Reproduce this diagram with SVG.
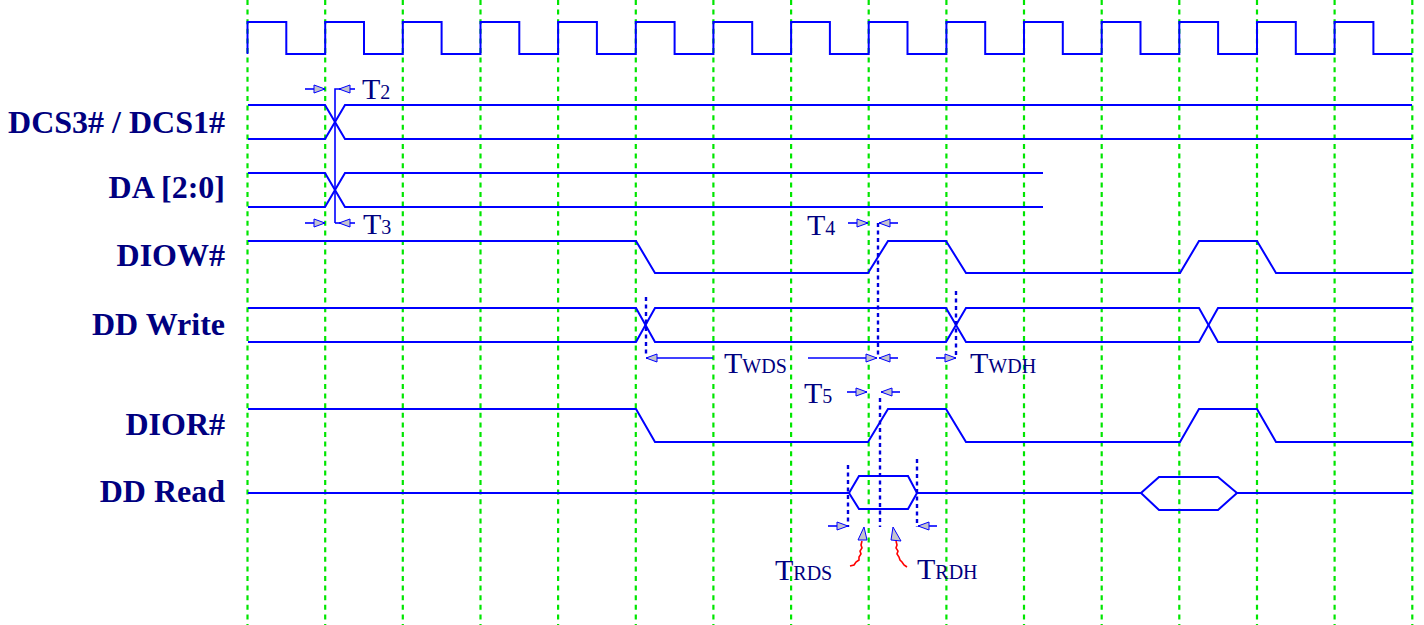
<svg xmlns="http://www.w3.org/2000/svg" width="1424" height="625" viewBox="0 0 1424 625">
<style>
.grid{stroke:#00e600;stroke-width:2.2;stroke-dasharray:5 4.6;fill:none}
.sig{stroke:#0000ff;stroke-width:2;fill:none}
.thin{stroke:#0000ff;stroke-width:1.6;fill:none}
.dot{stroke:#0000dd;stroke-width:2.4;stroke-dasharray:4 3.5;fill:none}
.lbl{font-family:"Liberation Serif","Times New Roman",serif;font-weight:bold;font-size:32px;fill:#000080;text-anchor:end}
.tl{font-family:"Liberation Serif","Times New Roman",serif;fill:#000080}
.big{font-size:30px}
.sub{font-size:20px}
.ar{stroke:#0000ff;stroke-width:1.6;fill:none;marker-end:url(#ah)}
.head{fill:#c4c4cc;stroke:#0000ff;stroke-width:1}
.red{stroke:#ff0000;stroke-width:1.6;fill:none}
</style>
<defs>
<marker id="ah" viewBox="0 0 11 8" refX="11" refY="4" markerWidth="11" markerHeight="8" markerUnits="userSpaceOnUse" orient="auto" overflow="visible">
<path d="M0,0 L11,4 L0,8 Z" fill="#c4c4cc" stroke="#0000ff" stroke-width="1"/>
</marker>
</defs>
<rect width="1424" height="625" fill="#ffffff"/>
<g id="grid">
<line class="grid" x1="247.5" y1="0" x2="247.5" y2="625"/>
<line class="grid" x1="325.2" y1="0" x2="325.2" y2="625"/>
<line class="grid" x1="402.8" y1="0" x2="402.8" y2="625"/>
<line class="grid" x1="480.5" y1="0" x2="480.5" y2="625"/>
<line class="grid" x1="558.1" y1="0" x2="558.1" y2="625"/>
<line class="grid" x1="635.8" y1="0" x2="635.8" y2="625"/>
<line class="grid" x1="713.4" y1="0" x2="713.4" y2="625"/>
<line class="grid" x1="791.1" y1="0" x2="791.1" y2="625"/>
<line class="grid" x1="868.7" y1="0" x2="868.7" y2="625"/>
<line class="grid" x1="946.4" y1="0" x2="946.4" y2="625"/>
<line class="grid" x1="1024" y1="0" x2="1024" y2="625"/>
<line class="grid" x1="1101.7" y1="0" x2="1101.7" y2="625"/>
<line class="grid" x1="1179.3" y1="0" x2="1179.3" y2="625"/>
<line class="grid" x1="1257" y1="0" x2="1257" y2="625"/>
<line class="grid" x1="1334.6" y1="0" x2="1334.6" y2="625"/>
<line class="grid" x1="1412.3" y1="0" x2="1412.3" y2="625"/>
</g>
<g id="clock">
<path class="sig" d="M247.5,54 V22 H286.3 V54 H325.2 V22 H364 V54 H402.8 V22 H441.6 V54 H480.5 V22 H519.3 V54 H558.1 V22 H596.9 V54 H635.8 V22 H674.6 V54 H713.4 V22 H752.2 V54 H791.1 V22 H829.9 V54 H868.7 V22 H907.5 V54 H946.4 V22 H985.2 V54 H1024 V22 H1062.8 V54 H1101.7 V22 H1140.5 V54 H1179.3 V22 H1218.1 V54 H1257 V22 H1295.8 V54 H1334.6 V22 H1373.4 V54 H1412.3"/>
</g>
<g id="dcs">
<text class="lbl" x="225" y="133">DCS3# / DCS1#</text>
<path class="sig" d="M248,105 H325 L345,139 H1412"/>
<path class="sig" d="M248,139 H325 L345,105 H1412"/>
</g>
<g id="da">
<text class="lbl" x="225" y="198">DA [2:0]</text>
<path class="sig" d="M248,173 H325 L345,207 H1043"/>
<path class="sig" d="M248,207 H325 L345,173 H1043"/>
</g>
<g id="diow">
<text class="lbl" x="225" y="266">DIOW#</text>
<path class="sig" d="M248,241 H636 L655,273 H868 L888,241 H946 L966,273 H1180 L1199,241 H1257 L1276,273 H1412"/>
</g>
<g id="ddwrite">
<text class="lbl" x="225" y="335">DD Write</text>
<path class="sig" d="M248,308 H636 L655,342 H946 L966,308 H1199 L1218,342 H1412"/>
<path class="sig" d="M248,342 H636 L655,308 H946 L966,342 H1199 L1218,308 H1412"/>
</g>
<g id="dior">
<text class="lbl" x="225" y="435">DIOR#</text>
<path class="sig" d="M248,409 H636 L655,442 H868 L888,409 H946 L966,442 H1180 L1199,409 H1257 L1276,442 H1412"/>
</g>
<g id="ddread">
<text class="lbl" x="225" y="502">DD Read</text>
<path class="sig" d="M248,493 H849 L859,476 H908 L917,493 H1141 L1159,477 H1218 L1237,493 H1412"/>
<path class="sig" d="M849,493 L859,509 H908 L917,493"/>
<path class="sig" d="M1141,493 L1159,510 H1218 L1237,493"/>
</g>
<g id="connectors">
<path class="thin" d="M335,223 V89 H341"/>
<line class="ar" x1="305" y1="89" x2="325" y2="89"/>
<line class="ar" x1="355" y1="89" x2="339" y2="89"/>
<line class="ar" x1="305" y1="223" x2="325" y2="223"/>
<path class="thin" d="M335,223 H341"/>
<line class="ar" x1="355" y1="223" x2="339" y2="223"/>
<line class="dot" x1="878" y1="223" x2="878" y2="358"/>
<line class="ar" x1="848" y1="223" x2="868" y2="223"/>
<line class="ar" x1="898" y1="223" x2="879" y2="223"/>
<line class="dot" x1="646" y1="297" x2="646" y2="357"/>
<line class="dot" x1="956" y1="291" x2="956" y2="357"/>
<line class="ar" x1="713" y1="358" x2="646" y2="358"/>
<line class="ar" x1="808" y1="358" x2="877" y2="358"/>
<line class="ar" x1="898" y1="358" x2="879" y2="358"/>
<line class="ar" x1="936" y1="358" x2="956" y2="358"/>
<line class="dot" x1="880" y1="398" x2="880" y2="527"/>
<line class="ar" x1="847" y1="392" x2="867" y2="392"/>
<line class="ar" x1="900" y1="392" x2="881" y2="392"/>
<line class="dot" x1="848" y1="465" x2="848" y2="527"/>
<line class="dot" x1="917" y1="459" x2="917" y2="527"/>
<line class="ar" x1="828" y1="526" x2="848" y2="526"/>
<line class="ar" x1="937" y1="526" x2="918" y2="526"/>
<polygon class="head" points="864,527 858,540 867,540"/>
<polygon class="head" points="893,527 891,540 901,541"/>
<path class="red" d="M862,541 L861,545 L862,548 L860,551 L861,554 L859,557 L859,560 L856,562 L854,565 L850,566"/>
<path class="red" d="M896,541 L897,545 L896,548 L898,551 L897,554 L899,557 L900,560 L902,562 L904,565 L907,567"/>
</g>
<g id="timing-labels">
<text class="tl" x="362" y="99"><tspan class="big">T</tspan><tspan class="sub">2</tspan></text>
<text class="tl" x="363" y="234"><tspan class="big">T</tspan><tspan class="sub">3</tspan></text>
<text class="tl" x="807" y="235"><tspan class="big">T</tspan><tspan class="sub">4</tspan></text>
<text class="tl" x="724" y="373"><tspan class="big">T</tspan><tspan class="sub">WDS</tspan></text>
<text class="tl" x="970" y="373"><tspan class="big">T</tspan><tspan class="sub">WDH</tspan></text>
<text class="tl" x="804" y="403"><tspan class="big">T</tspan><tspan class="sub">5</tspan></text>
<text class="tl" x="775" y="580"><tspan class="big">T</tspan><tspan class="sub">RDS</tspan></text>
<text class="tl" x="917" y="579"><tspan class="big">T</tspan><tspan class="sub">RDH</tspan></text>
</g>
</svg>
